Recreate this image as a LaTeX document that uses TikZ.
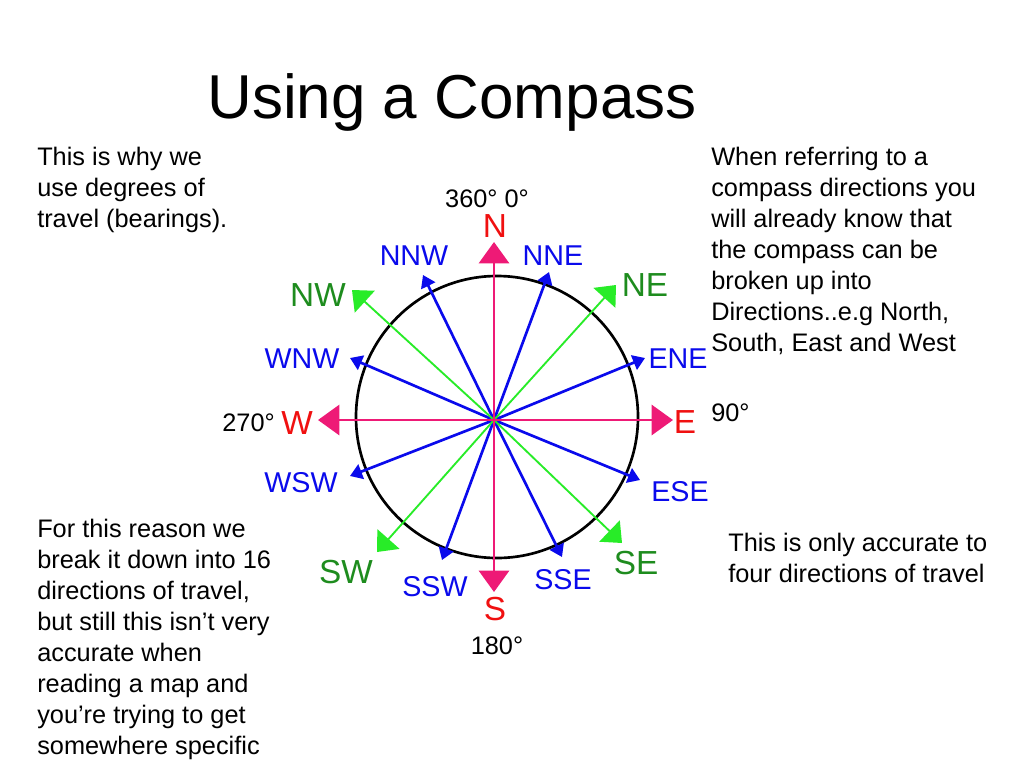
\documentclass[tikz,border=0pt]{standalone}
\usepackage{fontspec}
\setmainfont{Liberation Sans}
\usetikzlibrary{arrows.meta}
\definecolor{compasspink}{RGB}{238,26,118}
\definecolor{compassred}{RGB}{240,16,16}
\definecolor{compassgreen}{RGB}{40,236,40}
\definecolor{labelgreen}{RGB}{30,140,30}
\definecolor{compassblue}{RGB}{10,10,236}
\begin{document}
\begin{tikzpicture}[x=0.75pt, y=-0.75pt,
  cardinal/.style={compasspink, line width=2.2pt, -{Triangle[length=16pt,width=22.5pt]}},
  ordinal/.style={compassgreen, line width=1.4pt, -{Triangle[length=13pt,width=22pt]}},
  minor/.style={compassblue, line width=2pt, -{Triangle[length=9pt,width=11.5pt]}},
  bigdir/.style={compassred, font=\fontsize{25}{25}\selectfont, inner sep=0},
  middir/.style={labelgreen, font=\fontsize{25}{25}\selectfont, inner sep=0},
  smalldir/.style={compassblue, font=\fontsize{21.5}{21.5}\selectfont, inner sep=0},
  note/.style={font=\fontsize{19}{23.2}\selectfont, align=left, inner sep=0},
  degree/.style={font=\fontsize{19}{19}\selectfont, inner sep=0}]
\useasboundingbox[fill=white] (0,0) rectangle (1024,768);

\node[font=\fontsize{46.5}{46.5}\selectfont, anchor=base, inner sep=0] (title) at (452,118) {Using a Compass};

\node[note, anchor=north west] (whyText) at (37,147) {This is why we\\use degrees of\\travel (bearings).};
\node[note, anchor=north west] (knowText) at (711,147) {When referring to a\\compass directions you\\will already know that\\the compass can be\\broken up into\\Directions..e.g North,\\South, East and West};
\node[note, anchor=north west] (sixteenText) at (37,519) {For this reason we\\break it down into 16\\directions of travel,\\but still this isn’t very\\accurate when\\reading a map and\\you’re trying to get\\somewhere specific};
\node[note, anchor=north west] (fourText) at (728,533) {This is only accurate to\\four directions of travel};

% compass
\draw[line width=2pt] (497,417) circle (141);
\coordinate (c) at (494,420);

\coordinate (tipNNE) at (549,272);
\coordinate (tipENE) at (645,358);
\coordinate (tipESE) at (640,480);
\coordinate (tipSSE) at (562,557);
\coordinate (tipSSW) at (442,560);
\coordinate (tipWSW) at (350,476);
\coordinate (tipWNW) at (350,358);
\coordinate (tipNNW) at (423,275);
\draw[minor] (c) -- (tipNNE);
\draw[minor] (c) -- (tipENE);
\draw[minor] (c) -- (tipESE);
\draw[minor] (c) -- (tipSSE);
\draw[minor] (c) -- (tipSSW);
\draw[minor] (c) -- (tipWSW);
\draw[minor] (c) -- (tipWNW);
\draw[minor] (c) -- (tipNNW);

\coordinate (tipNE) at (616,285);
\coordinate (tipSE) at (622,543);
\coordinate (tipSW) at (377,552);
\coordinate (tipNW) at (352,290);
\draw[ordinal] (c) -- (tipNE);
\draw[ordinal] (c) -- (tipSE);
\draw[ordinal] (c) -- (tipSW);
\draw[ordinal] (c) -- (tipNW);

\coordinate (tipN) at (494,242);
\coordinate (tipE) at (673,420);
\coordinate (tipS) at (494,592);
\coordinate (tipW) at (318,420);
\draw[cardinal] (c) -- (tipN);
\draw[cardinal] (c) -- (tipE);
\draw[cardinal] (c) -- (tipS);
\draw[cardinal] (c) -- (tipW);

% labels
\node[bigdir] (lN) at (495,226) {N};
\node[bigdir] (lE) at (685,422) {E};
\node[bigdir] (lS) at (495,609) {S};
\node[bigdir] (lW) at (297,423) {W};

\node[middir] (lNE) at (645,285) {NE};
\node[middir] (lSE) at (636,563) {SE};
\node[middir] (lSW) at (346,572) {SW};
\node[middir] (lNW) at (318,295) {NW};

\node[smalldir] (lNNE) at (553,256) {NNE};
\node[smalldir] (lENE) at (678,359) {ENE};
\node[smalldir] (lESE) at (680,492) {ESE};
\node[smalldir] (lSSE) at (563,580) {SSE};
\node[smalldir] (lSSW) at (435,587) {SSW};
\node[smalldir] (lWSW) at (301,483) {WSW};
\node[smalldir] (lWNW) at (302,359) {WNW};
\node[smalldir] (lNNW) at (414,256) {NNW};

\node[degree] (d0) at (487,199) {360° 0°};
\node[degree, anchor=west] (d90) at (711,413) {90°};
\node[degree, anchor=east] (d270) at (275,423) {270°};
\node[degree] (d180) at (497,646) {180°};
\end{tikzpicture}
\end{document}
